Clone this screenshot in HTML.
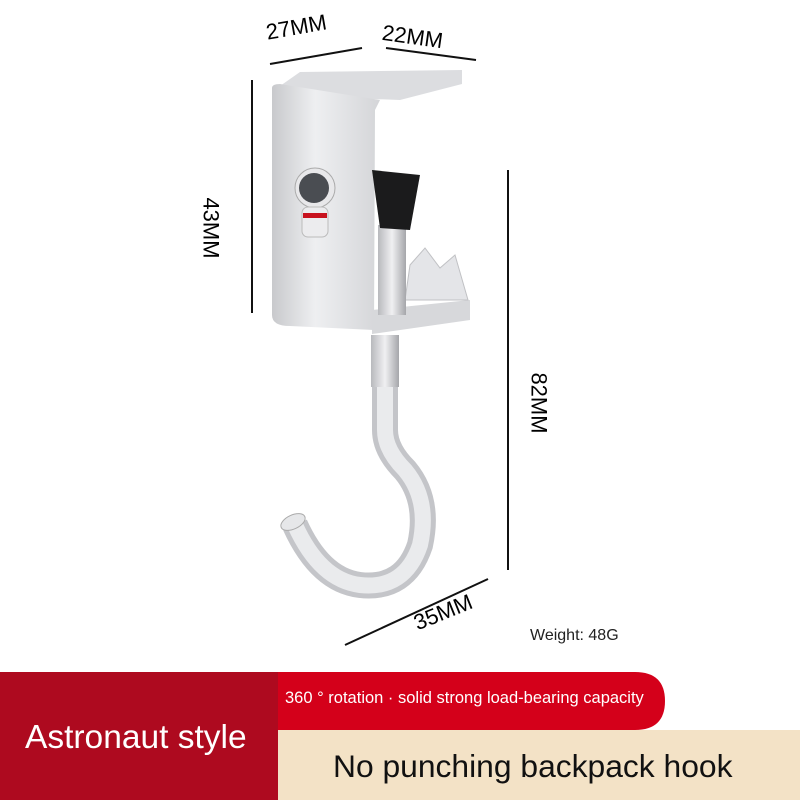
<!DOCTYPE html>
<html><head><meta charset="utf-8"><style>
body{margin:0;width:800px;height:800px;background:#fff;overflow:hidden;font-family:"Liberation Sans",sans-serif;position:relative}
.a{position:absolute;white-space:nowrap}
</style></head><body>
<svg class="a" style="left:0;top:0" width="800" height="800">
<defs>
<linearGradient id="pl" x1="0" x2="1"><stop offset="0" stop-color="#c8c9cc"/><stop offset=".4" stop-color="#eeeff1"/><stop offset="1" stop-color="#d4d5d8"/></linearGradient>
<linearGradient id="rod" x1="0" x2="1"><stop offset="0" stop-color="#b8b9bd"/><stop offset=".5" stop-color="#f0f0f2"/><stop offset="1" stop-color="#a5a6aa"/></linearGradient>
</defs>
<g stroke="#111" stroke-width="2" fill="none">
<line x1="270" y1="64" x2="362" y2="48"/>
<line x1="386" y1="48" x2="476" y2="60"/>
<line x1="252" y1="80" x2="252" y2="313"/>
<line x1="508" y1="170" x2="508" y2="570"/>
<line x1="345" y1="645" x2="488" y2="579"/>
</g>
<path d="M280 86 L300 72 L462 70 L462 84 L400 100 L290 96Z" fill="#dcdde0"/>
<path d="M272 88 Q272 84 280 84 L380 100 L375 110 L374 330 L290 326 Q272 326 272 315Z" fill="url(#pl)"/>
<path d="M372 310 L470 300 L470 320 L372 334Z" fill="#d7d8db"/>
<path d="M405 300 L410 265 L425 248 L440 268 L455 255 L468 300Z" fill="#e4e5e8" stroke="#c0c1c4"/>
<rect x="378" y="225" width="28" height="90" fill="url(#rod)"/>
<path d="M372 170 L420 175 L410 230 L380 228Z" fill="#1b1b1c"/>
<circle cx="315" cy="188" r="20" fill="#e8e8ea" stroke="#aaa"/>
<circle cx="314" cy="188" r="15" fill="#4a4d52"/>
<rect x="302" y="207" width="26" height="30" rx="6" fill="#ececee" stroke="#bbb"/>
<rect x="303" y="213" width="24" height="5" fill="#c8121e"/>
<path d="M385 380 L385 430 Q385 450 405 470 Q430 500 420 545 Q405 590 360 585 Q320 580 295 525" fill="none" stroke="#c4c5c9" stroke-width="26"/>
<path d="M385 380 L385 430 Q385 450 405 470 Q430 500 420 545 Q405 590 360 585 Q320 580 295 525" fill="none" stroke="#eaebed" stroke-width="16"/>
<rect x="371" y="335" width="28" height="52" fill="url(#rod)"/>
<ellipse cx="293" cy="522" rx="13" ry="7" transform="rotate(-25 293 522)" fill="#e6e7e9" stroke="#aaa"/>
<rect x="0" y="672" width="278" height="128" fill="#ae0a1f"/>
<path d="M278 672 L635 672 Q665 672 665 701 Q665 730 635 730 L278 730Z" fill="#d4001a"/>
<rect x="278" y="730" width="522" height="70" fill="#f3e2c6"/>
</svg>
<div class="a" style="left:264px;top:20px;font-size:22px;transform:rotate(-10deg);transform-origin:left top">27MM</div>
<div class="a" style="left:384px;top:20px;font-size:22px;transform:rotate(8deg);transform-origin:left top">22MM</div>
<div class="a" style="left:180px;top:215px;font-size:22px;transform:rotate(90deg)">43MM</div>
<div class="a" style="left:508px;top:390px;font-size:22px;transform:rotate(90deg)">82MM</div>
<div class="a" style="left:410px;top:612px;font-size:22px;transform:rotate(-22deg);transform-origin:left top">35MM</div>
<div class="a" style="left:530px;top:627px;font-size:16px;color:#222">Weight: 48G</div>
<div class="a" style="left:285px;top:689px;font-size:16.5px;color:#fff">360 ° rotation · solid strong load-bearing capacity</div>
<div class="a" style="left:25px;top:719px;font-size:33.5px;color:#fff">Astronaut style</div>
<div class="a" style="left:333px;top:748px;font-size:31.8px;color:#111">No punching backpack hook</div>
</body></html>
